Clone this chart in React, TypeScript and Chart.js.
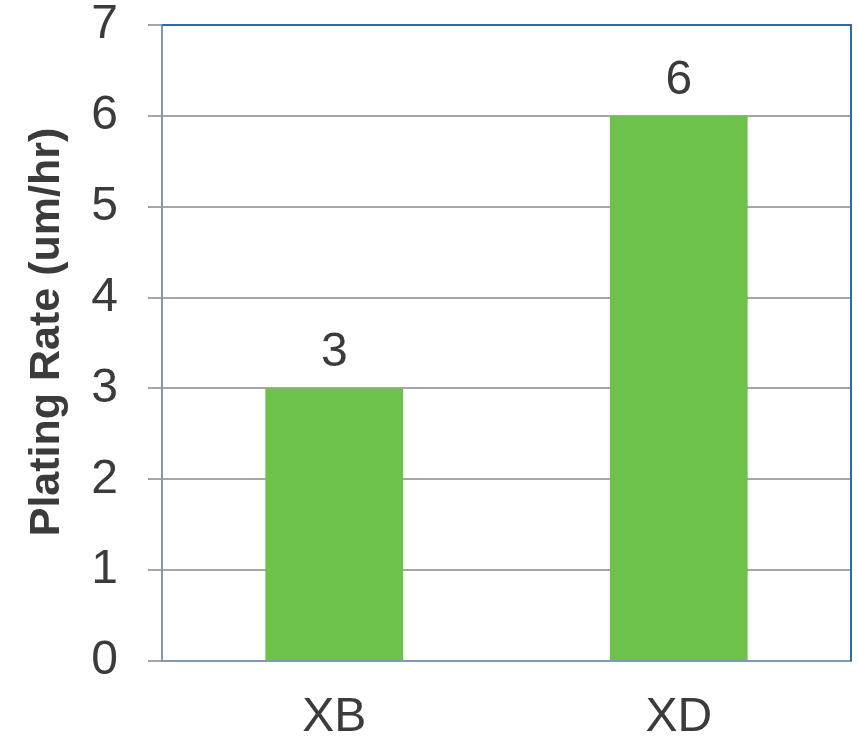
import React, { useEffect, useRef } from "react";
import { Chart, registerables } from "chart.js";

Chart.register(...registerables);

const categories = ["XB", "XD"];
const plateRates = [3, 6];
const yTicks = [0, 1, 2, 3, 4, 5, 6, 7];
const yTitle = "Plating Rate (um/hr)";

const FONT = "'Liberation Sans', Arial, Helvetica, sans-serif";
const TEXT = "#3b3b3b";

const framePlugin = {
  id: "frame",
  afterDatasetsDraw(chart: any) {
    const { ctx, chartArea } = chart;
    ctx.save();
    ctx.strokeStyle = "#2E6BAA";
    ctx.lineWidth = 2;
    ctx.beginPath();
    ctx.moveTo(chartArea.left, chartArea.top);
    ctx.lineTo(chartArea.right, chartArea.top);
    ctx.lineTo(chartArea.right, chartArea.bottom);
    ctx.stroke();
    ctx.restore();
  },
  afterDraw(chart: any) {
    const { ctx } = chart;
    const meta = chart.getDatasetMeta(0);
    ctx.save();
    ctx.fillStyle = TEXT;
    ctx.font = `48px ${FONT}`;
    ctx.textAlign = "center";
    ctx.textBaseline = "alphabetic";
    meta.data.forEach((bar: any, i: number) => {
      ctx.fillText(String(plateRates[i]), bar.x, bar.y - 22);
    });
    ctx.font = `bold 43px ${FONT}`;
    ctx.translate(47, 332);
    ctx.rotate(-Math.PI / 2);
    ctx.textBaseline = "middle";
    ctx.fillText(yTitle, 0, 0);
    ctx.restore();
  },
};

export default function App() {
  const ref = useRef<HTMLCanvasElement>(null);
  useEffect(() => {
    if (!ref.current) return;
    const chart = new Chart(ref.current, {
      type: "bar",
      data: {
        labels: categories,
        datasets: [
          {
            data: plateRates,
            backgroundColor: "#6CC24A",
            borderWidth: 0,
            barPercentage: 0.4,
            categoryPercentage: 1,
          },
        ],
      },
      options: {
        animation: false,
        responsive: false,
        maintainAspectRatio: false,
        layout: { padding: { top: 25, right: 7, left: 0, bottom: 0 } },
        plugins: { legend: { display: false }, tooltip: { enabled: false } },
        scales: {
          x: {
            grid: { display: false, drawTicks: false },
            border: { display: true, color: "#8497B0", width: 2 },
            ticks: {
              color: TEXT,
              font: { size: 48, family: FONT },
              padding: 28,
            },
            afterFit: (s: any) => {
              s.height = 77;
              s.paddingLeft = 0;
              s.paddingRight = 0;
            },
          },
          y: {
            min: 0,
            max: 7,
            afterBuildTicks: (s: any) => {
              s.ticks = yTicks.map((v) => ({ value: v }));
            },
            grid: { color: "#A6A6A6", lineWidth: 2, tickLength: 14 },
            border: { display: true, color: "#8497B0", width: 2 },
            ticks: {
              color: TEXT,
              font: { size: 48, family: FONT },
              padding: 30,
            },
            afterFit: (s: any) => {
              s.width = 162;
              s.paddingTop = 0;
              s.paddingBottom = 0;
            },
          },
        },
      },
      plugins: [framePlugin],
    });
    return () => chart.destroy();
  }, []);
  return (
    <div style={{ position: "fixed", left: 0, top: 0, width: 858, height: 738 }}>
      <canvas ref={ref} width={858} height={738} style={{ width: 858, height: 738 }} />
    </div>
  );
}
